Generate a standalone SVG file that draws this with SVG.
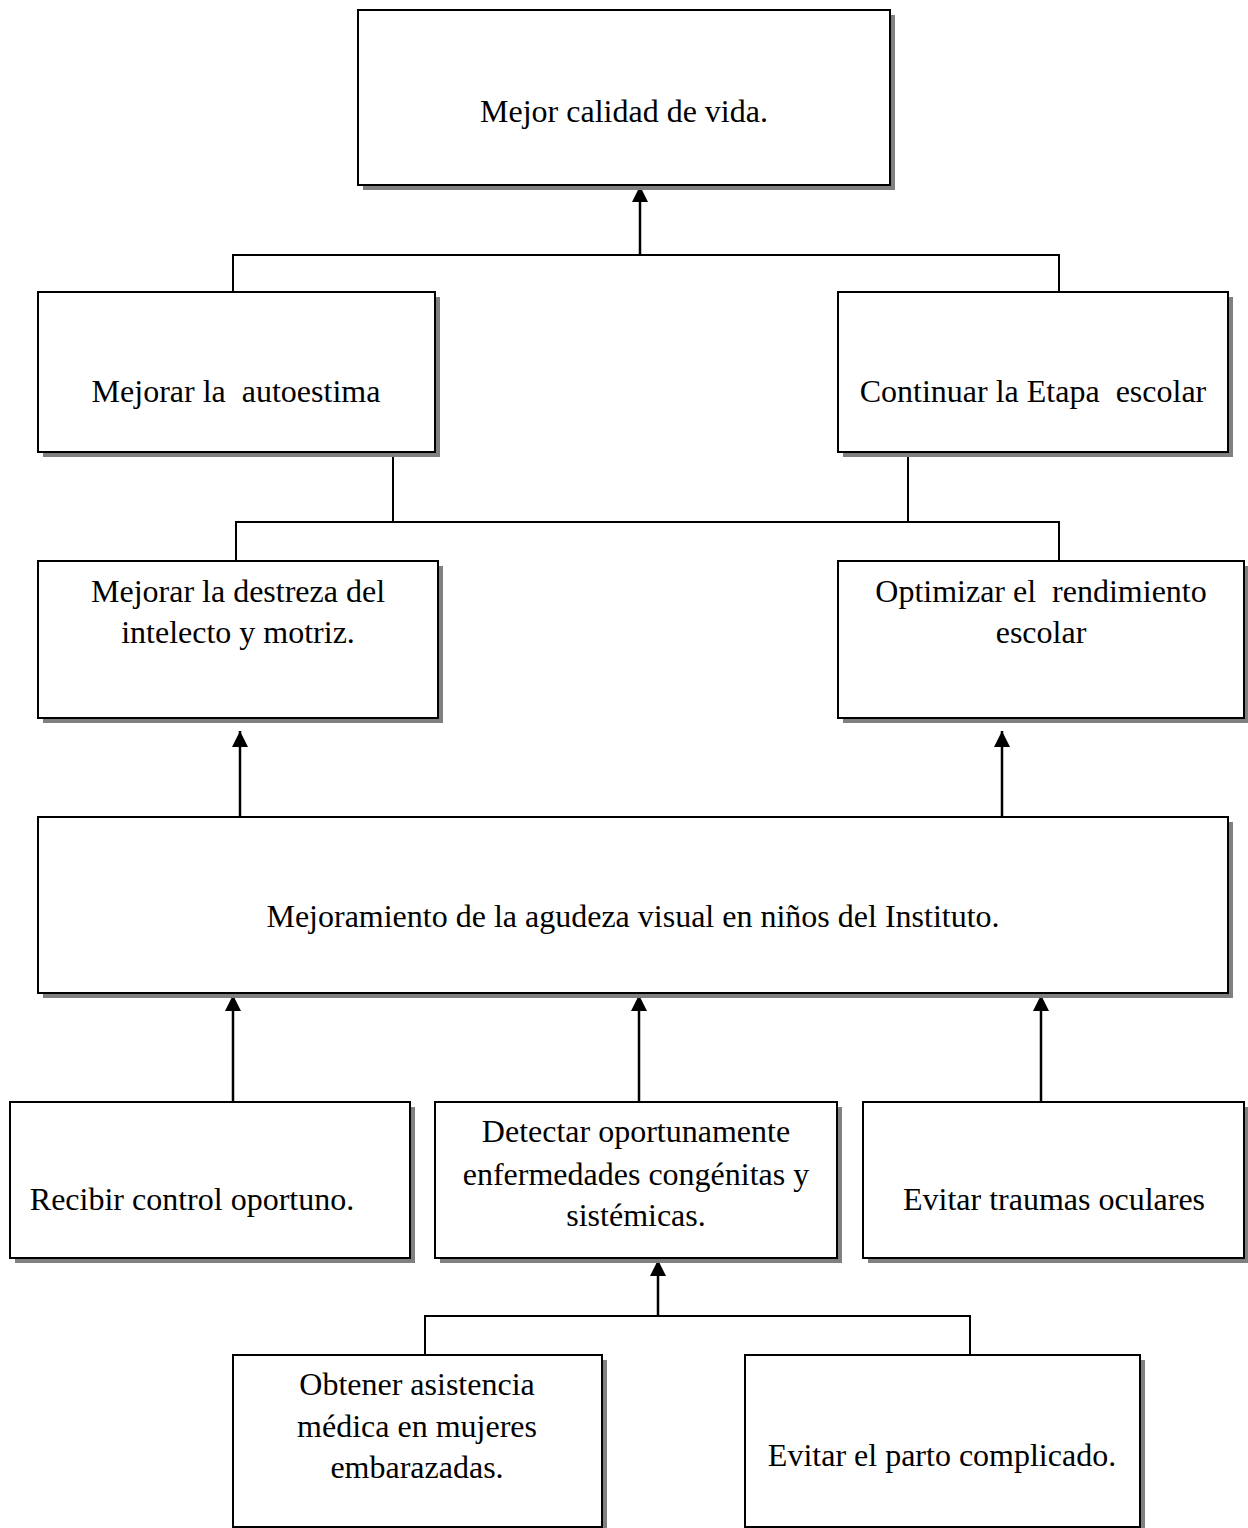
<svg xmlns="http://www.w3.org/2000/svg" width="1248" height="1528" viewBox="0 0 1248 1528">
<style>
.box{fill:#fff;stroke:#000;stroke-width:2}
.sh{fill:#808080}
.t{font-family:"Liberation Serif","Times New Roman",serif;font-size:32px;fill:#000;text-anchor:middle;white-space:pre}
.c{fill:none;stroke:#000;stroke-width:2}
.a{fill:none;stroke:#000;stroke-width:2.5}
</style>
<defs>
<marker id="ah" viewBox="0 0 16 16" refX="16" refY="8" markerWidth="16" markerHeight="16" markerUnits="userSpaceOnUse" orient="auto">
<path d="M0,0 L16,8 L0,16 z" fill="#000"/>
</marker>
</defs>
<rect width="1248" height="1528" fill="#fff"/>
<g id="connectors">
<line class="a" x1="640" y1="255" x2="640" y2="186" marker-end="url(#ah)"/>
<polyline class="c" points="233,292 233,255 1059,255 1059,292"/>
<line class="c" x1="393" y1="452" x2="393" y2="522"/>
<line class="c" x1="908" y1="452" x2="908" y2="522"/>
<polyline class="c" points="236,561 236,522 1059,522 1059,561"/>
<line class="a" x1="240" y1="817" x2="240" y2="731" marker-end="url(#ah)"/>
<line class="a" x1="1002" y1="817" x2="1002" y2="731" marker-end="url(#ah)"/>
<line class="a" x1="233" y1="1102" x2="233" y2="995" marker-end="url(#ah)"/>
<line class="a" x1="639" y1="1102" x2="639" y2="995" marker-end="url(#ah)"/>
<line class="a" x1="1041" y1="1102" x2="1041" y2="995" marker-end="url(#ah)"/>
<line class="a" x1="658" y1="1316" x2="658" y2="1260" marker-end="url(#ah)"/>
<polyline class="c" points="425,1355 425,1316 970,1316 970,1355"/>
</g>
<g id="n1"><rect class="sh" x="363" y="15" width="532" height="175"/><rect class="box" x="358" y="10" width="532" height="175"/><text class="t" x="624" y="122">Mejor calidad de vida.</text></g>
<g id="n2"><rect class="sh" x="43" y="297" width="397" height="160"/><rect class="box" x="38" y="292" width="397" height="160"/><text class="t" x="236" y="402">Mejorar la  autoestima</text></g>
<g id="n3"><rect class="sh" x="843" y="297" width="390" height="160"/><rect class="box" x="838" y="292" width="390" height="160"/><text class="t" x="1033" y="402">Continuar la Etapa  escolar</text></g>
<g id="n4"><rect class="sh" x="43" y="566" width="400" height="157"/><rect class="box" x="38" y="561" width="400" height="157"/><text class="t" x="238" y="602">Mejorar la destreza del</text><text class="t" x="238" y="643">intelecto y motriz.</text></g>
<g id="n5"><rect class="sh" x="843" y="566" width="406" height="157"/><rect class="box" x="838" y="561" width="406" height="157"/><text class="t" x="1041" y="602">Optimizar el  rendimiento</text><text class="t" x="1041" y="643">escolar</text></g>
<g id="n6"><rect class="sh" x="43" y="822" width="1190" height="176"/><rect class="box" x="38" y="817" width="1190" height="176"/><text class="t" x="633" y="927">Mejoramiento de la agudeza visual en niños del Instituto.</text></g>
<g id="n7"><rect class="sh" x="15" y="1107" width="400" height="156"/><rect class="box" x="10" y="1102" width="400" height="156"/><text class="t" x="192" y="1210">Recibir control oportuno.</text></g>
<g id="n8"><rect class="sh" x="440" y="1107" width="402" height="156"/><rect class="box" x="435" y="1102" width="402" height="156"/><text class="t" x="636" y="1142">Detectar oportunamente</text><text class="t" x="636" y="1185">enfermedades congénitas y</text><text class="t" x="636" y="1226">sistémicas.</text></g>
<g id="n9"><rect class="sh" x="868" y="1107" width="381" height="156"/><rect class="box" x="863" y="1102" width="381" height="156"/><text class="t" x="1054" y="1210">Evitar traumas oculares</text></g>
<g id="n10"><rect class="sh" x="238" y="1360" width="369" height="172"/><rect class="box" x="233" y="1355" width="369" height="172"/><text class="t" x="417" y="1395">Obtener asistencia</text><text class="t" x="417" y="1437">médica en mujeres</text><text class="t" x="417" y="1478">embarazadas.</text></g>
<g id="n11"><rect class="sh" x="750" y="1360" width="395" height="172"/><rect class="box" x="745" y="1355" width="395" height="172"/><text class="t" x="942" y="1466">Evitar el parto complicado.</text></g>
</svg>
